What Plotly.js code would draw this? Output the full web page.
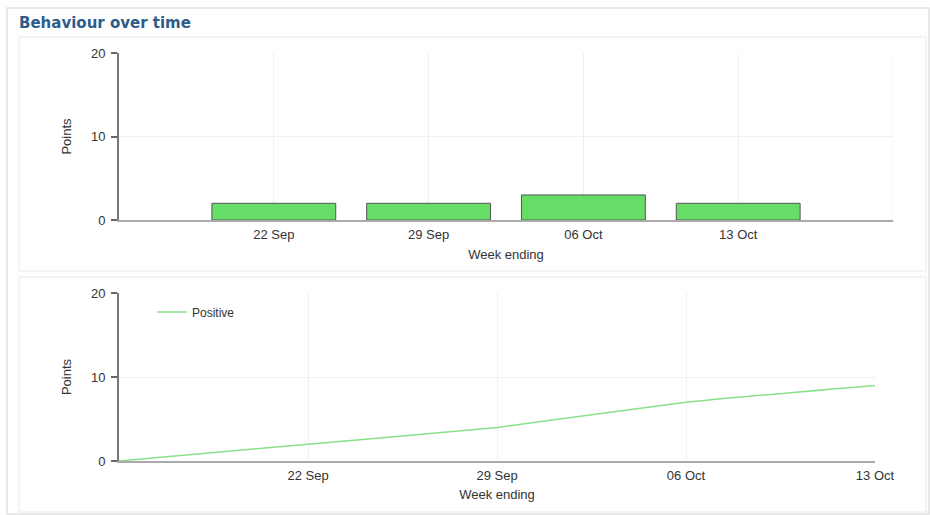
<!DOCTYPE html>
<html>
<head>
<meta charset="utf-8">
<script src="https://cdn.plot.ly/plotly-3.0.1.min.js"></script>
<style>
html,body{margin:0;padding:0;background:#fff;}
#chart{width:930px;height:515px;}
</style>
</head>
<body>
<div id="chart"></div>
<script>
// ---- data ----
const weekCategories = ['22 Sep', '29 Sep', '06 Oct', '13 Oct'];
const weeklyPoints = [2, 2, 3, 2];
const cumulativeDates = ['2019-09-15', '2019-09-22', '2019-09-29', '2019-10-06', '2019-10-13'];
const cumulativePositive = [0, 2, 4, 7, 9];
const dateTickVals = ['2019-09-22', '2019-09-29', '2019-10-06', '2019-10-13'];
const yTickVals = [0, 10, 20];
const seriesName = 'Positive';

// ---- layout helpers ----
const W = 930, H = 515;
const px = v => v / W;
const py = v => 1 - v / H;

const tickFont = {family: 'Liberation Sans, Arial, sans-serif', size: 13, color: '#333'};
const titleFont = {family: 'Liberation Sans, Arial, sans-serif', size: 13, color: '#333'};

const traces = [
  {
    type: 'bar', x: weekCategories, y: weeklyPoints, xaxis: 'x', yaxis: 'y',
    width: 0.8,
    marker: {color: '#66dd66', line: {color: '#555', width: 1}},
    showlegend: false, hoverinfo: 'x+y'
  },
  {
    type: 'scatter', mode: 'lines', x: cumulativeDates, y: cumulativePositive,
    xaxis: 'x2', yaxis: 'y2', name: seriesName,
    line: {color: '#88e088', width: 1.5, shape: 'spline', smoothing: 0.4},
    showlegend: true
  }
];

const yCommon = {
  range: [0, 20], tickvals: yTickVals, ticks: 'outside', ticklen: 6, tickwidth: 1.5,
  tickcolor: '#666', showline: true, linecolor: '#777', linewidth: 2,
  showgrid: true, gridcolor: '#f0f0f0', zeroline: false, tickfont: tickFont,
  ticklabelstandoff: 3, fixedrange: true
};

const layout = {
  width: W, height: H,
  margin: {l: 0, r: 0, t: 0, b: 0},
  paper_bgcolor: 'rgba(0,0,0,0)', plot_bgcolor: 'rgba(0,0,0,0)',
  title: {
    text: 'Behaviour over time',
    font: {family: 'DejaVu Sans, Verdana, sans-serif', size: 15, color: '#2d5c8a', weight: 'bold'},
    xref: 'container', yref: 'container', x: px(19), xanchor: 'left', y: py(23), yanchor: 'middle'
  },
  xaxis: {
    domain: [px(119), px(893)], anchor: 'y', type: 'category', range: [-1, 4],
    showline: true, linecolor: '#aaa', linewidth: 2, ticks: '', showgrid: true,
    gridcolor: '#f0f0f0', tickfont: tickFont, fixedrange: true, ticklabelstandoff: 1,
    title: {text: 'Week ending', font: titleFont, standoff: 9}
  },
  yaxis: Object.assign({}, yCommon, {
    domain: [py(220), py(53)], anchor: 'x',
    title: {text: 'Points', font: titleFont, standoff: 16}
  }),
  xaxis2: {
    domain: [px(119), px(875)], anchor: 'y2', type: 'date',
    range: [cumulativeDates[0], cumulativeDates[cumulativeDates.length - 1]],
    tickvals: dateTickVals, tickformat: '%d %b',
    showline: true, linecolor: '#aaa', linewidth: 2, ticks: '', showgrid: true,
    gridcolor: '#f0f0f0', tickfont: tickFont, fixedrange: true, ticklabelstandoff: 1,
    title: {text: 'Week ending', font: titleFont, standoff: 8}
  },
  yaxis2: Object.assign({}, yCommon, {
    domain: [py(461), py(293)], anchor: 'x2',
    title: {text: 'Points', font: titleFont, standoff: 16}
  }),
  legend: {
    x: px(152), y: py(312), xanchor: 'left', yanchor: 'middle',
    bgcolor: 'rgba(0,0,0,0)', font: {family: tickFont.family, size: 12, color: '#333'}, itemwidth: 30
  },
  shapes: [
    {type: 'rect', xref: 'paper', yref: 'paper', x0: px(7), x1: px(929), y0: py(8), y1: py(514),
      line: {color: '#e2e2e2', width: 1.5}, fillcolor: 'rgba(0,0,0,0)', layer: 'below'},
    {type: 'rect', xref: 'paper', yref: 'paper', x0: px(19), x1: px(926), y0: py(37), y1: py(271),
      line: {color: '#e8e8e8', width: 1}, fillcolor: 'rgba(0,0,0,0)', layer: 'below'},
    {type: 'rect', xref: 'paper', yref: 'paper', x0: px(19), x1: px(926), y0: py(277), y1: py(512),
      line: {color: '#e8e8e8', width: 1}, fillcolor: 'rgba(0,0,0,0)', layer: 'below'},
    {type: 'line', xref: 'x', yref: 'y domain', x0: 4, x1: 4, y0: 0, y1: 1,
      line: {color: '#f0f0f0', width: 1}, layer: 'below'}
  ],
  hovermode: 'closest'
};

Plotly.newPlot('chart', traces, layout, {displayModeBar: false, staticPlot: false});
</script>
</body>
</html>
